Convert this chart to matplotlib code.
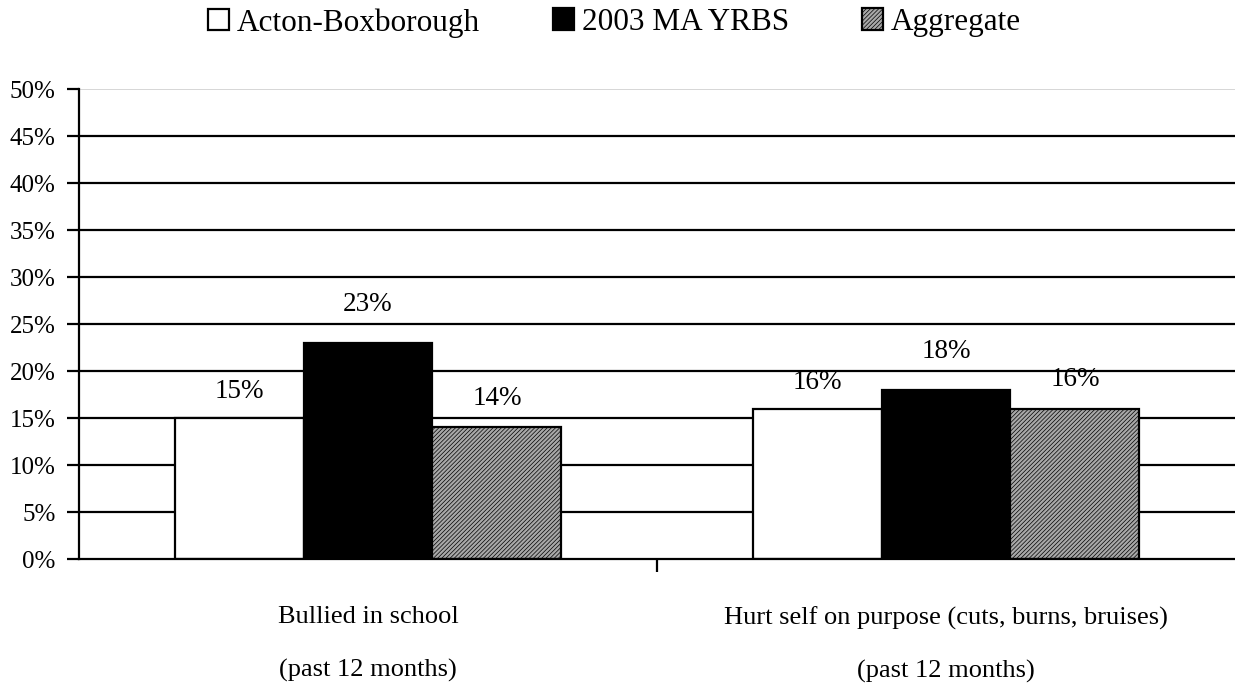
import matplotlib
matplotlib.use("Agg")
import matplotlib.pyplot as plt
import numpy as np

plt.rcParams['font.family'] = ['Liberation Serif', 'DejaVu Serif']
plt.rcParams['hatch.linewidth'] = 0.5
plt.rcParams['hatch.color'] = '#222222'

categories = ["Bullied in school\n\n(past 12 months)",
              "Hurt self on purpose (cuts, burns, bruises)\n\n(past 12 months)"]
series_names = ["Acton-Boxborough", "2003 MA YRBS", "Aggregate"]
acton = [15, 16]
ma_yrbs = [23, 18]
aggregate = [14, 16]
yticks = [0, 5, 10, 15, 20, 25, 30, 35, 40, 45, 50]

fig = plt.figure(figsize=(12.35, 6.88), dpi=100)
ax = fig.add_axes([0.064, 0.1875, 0.936, 0.683])

x = np.arange(len(categories))
w = 0.223
styles = [
    dict(facecolor="white", edgecolor="black"),
    dict(facecolor="black", edgecolor="black"),
    dict(facecolor="#a8a8a8", edgecolor="black", hatch="////////"),
]
label_offsets = [2.8, 4.1, 3.1]

# gridlines first
for yv in yticks[1:-1]:
    ax.axhline(yv, color="black", linewidth=1.6, zorder=1)
ax.axhline(50, color="#d0d0d0", linewidth=1.2, zorder=1)

handles = []
for i, (vals, st) in enumerate(zip([acton, ma_yrbs, aggregate], styles)):
    bars = ax.bar(x + (i - 1) * w, vals, w, linewidth=1.6, zorder=2,
                  label=series_names[i], **st)
    handles.append(bars)
    for xi, v in zip(x + (i - 1) * w, vals):
        ax.text(xi, v + label_offsets[i], f"{v}%", ha="center", va="center",
                fontsize=19.5)

ax.set_xlim(-0.5, 1.5)
ax.set_ylim(0, 50)
ax.set_yticks(yticks)
ax.set_yticklabels([f"{v}%" for v in yticks], fontsize=18)
ax.set_xticks([0.5])
ax.set_xticklabels([])
ax.set_xticks(x, minor=True)
ax.set_xticklabels(categories, minor=True, fontsize=19, linespacing=1.25)
ax.tick_params(axis="x", which="minor", length=0, pad=34)
ax.tick_params(axis="x", which="major", length=9, width=1.6, direction="out")
ax.tick_params(axis="y", length=9, width=1.6, direction="out", pad=8)

for s in ["top", "right"]:
    ax.spines[s].set_visible(False)
ax.spines["left"].set_linewidth(1.6)
ax.spines["bottom"].set_linewidth(1.6)

# legend entries placed one by one, like the original's spacing
legend_x = [208 / 1235, 553 / 1235, 862 / 1235]
for h, name, lx in zip(handles, series_names, legend_x):
    fig.legend(handles=[h], labels=[name], loc="upper left",
               bbox_to_anchor=(lx, 1.0 - 8 / 688), frameon=False, fontsize=22.5,
               handlelength=0.67, handleheight=0.67, handletextpad=0.26,
               borderpad=0, borderaxespad=0)

fig.savefig("out.png", dpi=100)
